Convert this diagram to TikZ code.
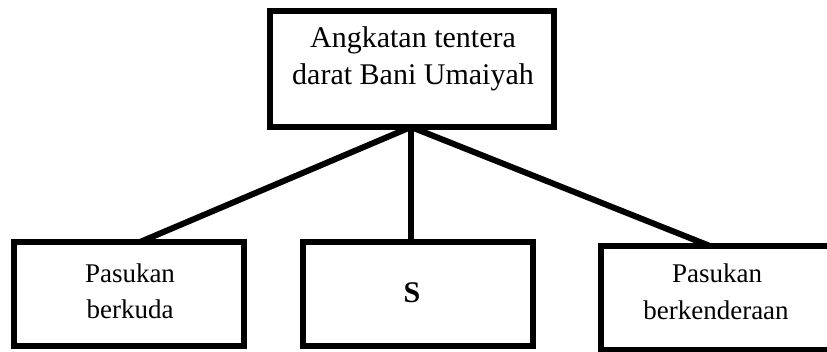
\documentclass[tikz,border=0pt]{standalone}
\usepackage{fontspec}
\setmainfont{Liberation Serif}
\begin{document}
\begin{tikzpicture}[x=0.75pt,y=-0.75pt,
  box/.style={draw,line width=4.5pt,line join=miter,inner sep=0pt,outer sep=0pt,rectangle},
  conn/.style={line width=4.5pt},
  bigtxt/.style={inner sep=0pt,anchor=base,font=\fontsize{22.5}{27}\selectfont},
  smalltxt/.style={inner sep=0pt,anchor=base,font=\fontsize{20.25}{24}\selectfont}]
\clip (0,0) rectangle (827,352);
\node[box,minimum width=213.4pt,minimum height=87pt] (top) at (412,69) {};
\node[box,minimum width=172.9pt,minimum height=78pt] (left) at (129,294) {};
\node[box,minimum width=172.5pt,minimum height=78pt] (mid) at (418,294) {};
\node[box,minimum width=172.5pt,minimum height=78pt] (right) at (716,298) {};
\coordinate (lend) at (140,242);
\coordinate (mend) at (411,242);
\coordinate (rend) at (710,246);
\coordinate (tstart) at (411,127);
\draw[conn] (tstart) -- (lend);
\draw[conn] (tstart) -- (mend);
\draw[conn] (tstart) -- (rend);
\node[bigtxt] (t1) at (413,48) {Angkatan tentera};
\node[bigtxt] (t2) at (413,85) {darat Bani Umaiyah};
\node[smalltxt] (l1) at (130,283) {Pasukan};
\node[smalltxt] (l2) at (130,318) {berkuda};
\node[smalltxt] (r1) at (717,283) {Pasukan};
\node[smalltxt] (r2) at (716,320) {berkenderaan};
\node[bigtxt,font=\fontsize{22.5}{27}\selectfont\bfseries] (s) at (412,302) {S};
\end{tikzpicture}
\end{document}
